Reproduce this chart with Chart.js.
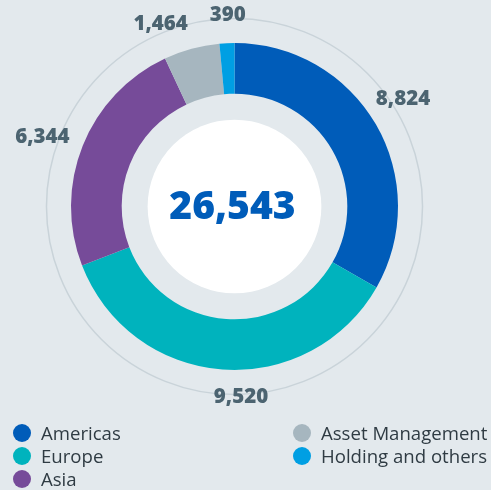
<!DOCTYPE html>
<html>
<head>
<meta charset="utf-8">
<script src="https://cdn.jsdelivr.net/npm/chart.js@4.4.0/dist/chart.umd.min.js"></script>
<style>
  html, body { margin: 0; padding: 0; background: #e3e9ed; }
  .wrap { position: relative; width: 491px; height: 490px; }
  #chart { position: absolute; left: 0; top: 0; }
  .legend { position: absolute; top: 421px; font-family: "Open Sans", sans-serif; font-size: 18.6px; color: #2f3b43; }
  .legend .item { height: 23px; line-height: 23px; display: flex; align-items: center; white-space: nowrap; }
  .legend .dot { width: 18px; height: 18px; border-radius: 50%; margin-right: 10px; flex: none; }
</style>
</head>
<body>
<div class="wrap">
  <canvas id="chart" width="491" height="490"></canvas>
  <div class="legend" id="leg1" style="left:13px"></div>
  <div class="legend" id="leg2" style="left:293px"></div>
</div>
<script>
const regions = ['Americas', 'Europe', 'Asia', 'Asset Management', 'Holding and others']
const employees = [8824, 9520, 6344, 1464, 390]
const total = 26543
const colors = ['#005cb9', '#00b3bd', '#764b99', '#a6b6bf', '#009fe3']

// small hand tweaks so labels sit where the original has them
const labelNudgeDeg = [-2.4, -6.2, -2.1, -6.8, 0.6]
const labelRadius = [1.223, 1.168, 1.248, 1.205, 1.174]

const fmt = n => n.toLocaleString('en-US')

const decor = {
  id: 'decor',
  beforeDatasetsDraw(chart) {
    const arc = chart.getDatasetMeta(0).data[0]
    const c = chart.ctx
    c.save()
    c.beginPath()
    c.arc(arc.x, arc.y, arc.outerRadius * 1.15, 0, Math.PI * 2)
    c.strokeStyle = '#c9d3d9'
    c.lineWidth = 1.5
    c.stroke()
    c.restore()
  },
  afterDatasetsDraw(chart) {
    const meta = chart.getDatasetMeta(0)
    const c = chart.ctx
    const a0 = meta.data[0]
    c.save()
    c.beginPath()
    c.arc(a0.x, a0.y, a0.innerRadius * 0.77, 0, Math.PI * 2)
    c.fillStyle = '#ffffff'
    c.fill()

    c.fillStyle = '#005cb9'
    c.font = '800 39px "Open Sans"'
    c.textAlign = 'center'
    c.textBaseline = 'middle'
    c.fillText(fmt(total), a0.x - 2, a0.y + 1)

    c.fillStyle = '#4c6471'
    c.font = '800 20.5px "Open Sans"'
    meta.data.forEach((arc, i) => {
      const mid = (arc.startAngle + arc.endAngle) / 2 + labelNudgeDeg[i] * Math.PI / 180
      const r = arc.outerRadius * labelRadius[i]
      c.fillText(fmt(employees[i]), arc.x + r * Math.cos(mid), arc.y + r * Math.sin(mid))
    })
    c.restore()
  }
}

new Chart(document.getElementById('chart'), {
  type: 'doughnut',
  data: {
    labels: regions,
    datasets: [{
      data: employees,
      backgroundColor: colors,
      borderWidth: 0
    }]
  },
  options: {
    responsive: false,
    animation: false,
    cutout: '69%',
    layout: { padding: { left: 71, right: 93, top: 43, bottom: 120 } },
    plugins: {
      legend: { display: false },
      tooltip: { enabled: false }
    }
  },
  plugins: [decor]
})

// legend: first three in the left column, rest on the right
regions.forEach((name, i) => {
  const item = document.createElement('div')
  item.className = 'item'
  item.innerHTML = '<span class="dot" style="background:' + colors[i] + '"></span>' + name
  document.getElementById(i < 3 ? 'leg1' : 'leg2').appendChild(item)
})
</script>
</body>
</html>
